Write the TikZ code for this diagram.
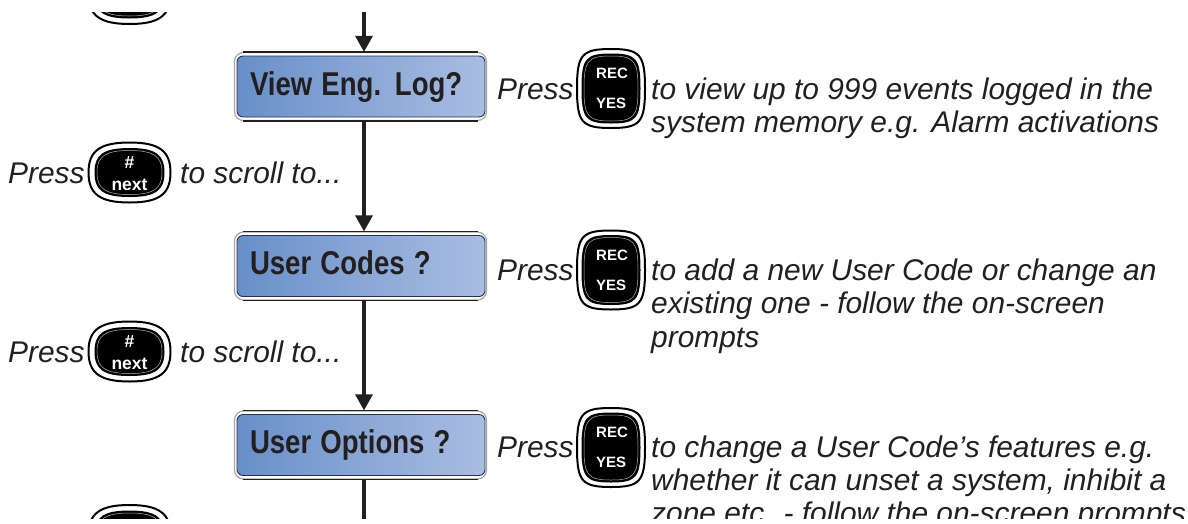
\documentclass[tikz,border=0pt]{standalone}
\usepackage{fontspec}
\setmainfont{Liberation Sans}
\usetikzlibrary{arrows.meta}
\definecolor{panelL}{RGB}{104,143,201}
\definecolor{panelM}{RGB}{150,172,219}
\definecolor{panelR}{RGB}{170,189,226}
\definecolor{panelE}{RGB}{40,50,80}
\definecolor{ink}{RGB}{35,31,32}
\tikzset{
  x=1pt,y=-1pt,
  frame/.style={draw=gray!70,line width=1.2pt,fill=white,rounded corners=9pt,minimum width=252pt,minimum height=68pt,inner sep=0pt},
  panel/.style={draw=panelE,line width=.9pt,rounded corners=6pt,left color=panelL,middle color=panelM,right color=panelR,
    minimum width=248pt,minimum height=61pt,inner sep=0pt,text width=222pt,text height=24pt,text depth=7pt,align=left,text=ink,font=\fontsize{33}{36}\selectfont\bfseries},
  body/.style={anchor=base west,inner sep=0pt,text=ink,font=\fontsize{29.9}{34}\selectfont\itshape},
  keytext/.style={inner sep=0pt,text=white,font=\fontsize{15}{16}\selectfont\bfseries,align=center},
  nexttext/.style={inner sep=0pt,text=white,font=\fontsize{17.5}{18}\selectfont\bfseries},
  flow/.style={draw=ink,line width=3.2pt,-{Triangle[length=16pt,width=17pt]}},
  plainflow/.style={draw=ink,line width=3.2pt},
  edge/.style={draw=ink,line width=1.3pt},
}
\newcommand{\disp}[3]{%
  \node[frame] (#1) at (360.5,#2) {};
  \draw[edge] ([xshift=9pt]#1.north west) -- ([xshift=-9pt]#1.north east);
  \draw[edge] ([xshift=9pt]#1.south west) -- ([xshift=-9pt]#1.south east);
  \node[panel] (#1p) at (361,#2) {\scalebox{.835}[1]{#3}};
}
\newcommand{\blob}[6]{% cx cy halfw halfh bulge style
  \path[#6] (#1-#3,#2) .. controls (#1-#3,#2-#4*#5) and (#1-#3*#5,#2-#4) .. (#1,#2-#4)
    .. controls (#1+#3*#5,#2-#4) and (#1+#3,#2-#4*#5) .. (#1+#3,#2)
    .. controls (#1+#3,#2+#4*#5) and (#1+#3*#5,#2+#4) .. (#1,#2+#4)
    .. controls (#1-#3*#5,#2+#4) and (#1-#3,#2+#4*#5) .. (#1-#3,#2) -- cycle;
}
\newcommand{\nextshape}[2]{% cx cy
  \blob{#1}{#2}{41}{30}{.72}{draw=black,line width=2pt,fill=white}
  \blob{#1}{#2}{35}{24.5}{.74}{fill=black}
  \blob{#1}{#2}{32.5}{22}{.74}{draw=white!70!black,line width=.5pt}
}
\newcommand{\nextkey}[3]{% name cx cy
  \nextshape{#2}{#3}
  \node[nexttext] (#1a) at (#2,#3-9.5) {\#};
  \node[nexttext] (#1b) at (#2,#3+12) {next};
}
\newcommand{\reckey}[3]{% name cx cy
  \blob{#2}{#3}{34}{39.5}{.86}{draw=black,line width=2pt,fill=white}
  \blob{#2}{#3}{29.5}{35}{.86}{fill=black}
  \blob{#2}{#3}{27}{32.5}{.86}{draw=white!70!black,line width=.5pt}
  \node[keytext] (#1a) at (#2+1,#3-15) {REC};
  \node[keytext] (#1b) at (#2,#3+15) {YES};
}
\begin{document}
\begin{tikzpicture}
\path[use as bounding box] (0,0) rectangle (1188,523);
\fill[white] (0,0) rectangle (1188,523);
\clip (0,12) rectangle (1188,518.5);

\disp{d1}{86.5}{View Eng. Log?}
\disp{d2}{266}{User Codes ?}
\disp{d3}{445}{User Options ?}

\coordinate (top) at (364,12);
\coordinate (bot) at (364,523);
\draw[flow] (top) -- ([xshift=3.5pt]d1.north);
\draw[flow] ([xshift=3.5pt]d1.south) -- ([xshift=3.5pt]d2.north);
\draw[flow] ([xshift=3.5pt]d2.south) -- ([xshift=3.5pt]d3.north);
\draw[plainflow] ([xshift=3.5pt]d3.south) -- (bot);

\nextshape{129.5}{-6}
\nextshape{129.5}{535}
\nextkey{n1}{129.5}{172.5}
\nextkey{n2}{129.5}{351.5}

\reckey{r1}{611}{88.5}
\reckey{r2}{611}{270}
\reckey{r3}{611}{447.5}

\node[body] (p1) at (8,183) {Press};
\node[body] (s1) at (180,183) {to scroll to...};
\node[body] (p2) at (8,362) {Press};
\node[body] (s2) at (180,362) {to scroll to...};

\node[body] (q1) at (497,99) {Press};
\node[body] (q2) at (497,280) {Press};
\node[body] (q3) at (497,457) {Press};

\node[body] (t1a) at (651,99) {to view up to 999 events logged in the};
\node[body] (t1b) at (651,132) {system memory e.g. Alarm activations};
\node[body] (t2a) at (651,280) {to add a new User Code or change an};
\node[body] (t2b) at (651,313) {existing one - follow the on-screen};
\node[body] (t2c) at (651,347) {prompts};
\node[body] (t3a) at (651,457) {to change a User Code’s features e.g.};
\node[body] (t3b) at (651,490) {whether it can unset a system, inhibit a};
\node[body] (t3c) at (651,523) {zone etc. - follow the on-screen prompts};
\end{tikzpicture}
\end{document}
